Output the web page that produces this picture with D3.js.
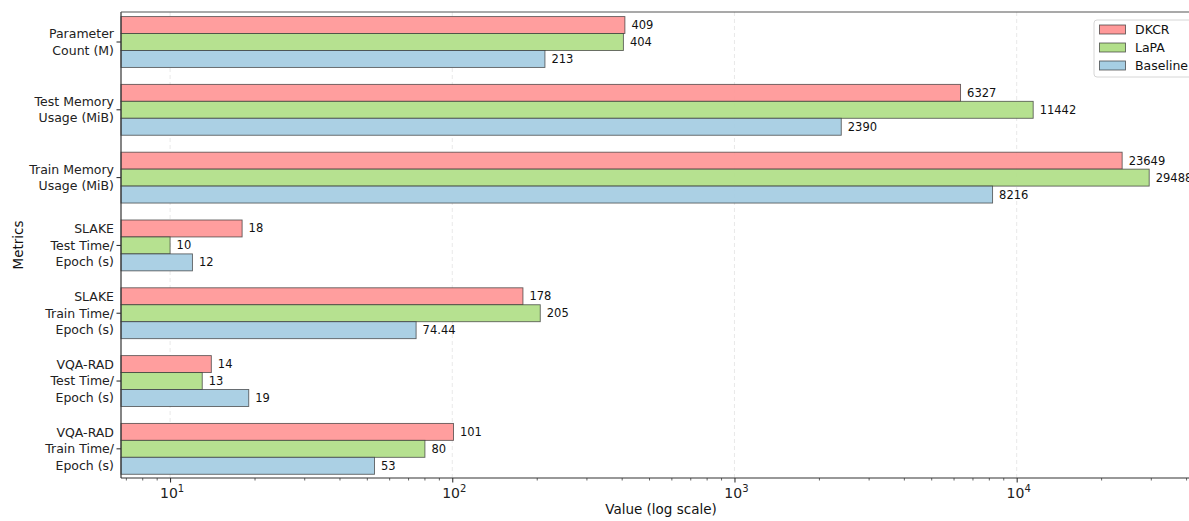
<!DOCTYPE html>
<html>
<head>
<meta charset="utf-8">
<script src="https://cdn.jsdelivr.net/npm/d3@7"></script>
<style>
  html, body { margin: 0; padding: 0; background: #fff; overflow: hidden; }
  svg { display: block; font-family: "DejaVu Sans", sans-serif; }
</style>
</head>
<body>
<svg id="chart" width="1189" height="521"></svg>
<script>
'use strict';

// categories, top to bottom
const metrics = [
  ['Parameter', 'Count (M)'],
  ['Test Memory', 'Usage (MiB)'],
  ['Train Memory', 'Usage (MiB)'],
  ['SLAKE', 'Test Time/', 'Epoch (s)'],
  ['SLAKE', 'Train Time/', 'Epoch (s)'],
  ['VQA-RAD', 'Test Time/', 'Epoch (s)'],
  ['VQA-RAD', 'Train Time/', 'Epoch (s)'],
];
const seriesNames = ['DKCR', 'LaPA', 'Baseline'];
const dkcr     = [409, 6327, 23649, 18, 178, 14, 101];
const lapa     = [404, 11442, 29488, 10, 205, 13, 80];
const baseline = [213, 2390, 8216, 12, 74.44, 19, 53];
const colors = ['#ff9999', '#b2df8a', '#a6cee3'];
const majorTicks = [10, 100, 1000, 10000];

const series = [dkcr, lapa, baseline];

const svg = d3.select('#chart');
const pLeft = 121, pTop = 12, pBottom = 478, pRight = 1201;

const x = d3.scaleLog().domain([6.7, 45000]).range([pLeft, pRight]);
const y = d3.scaleLinear().domain([-0.4425, 6.43]).range([pTop, pBottom]);
const barH = y(0.25) - y(0);

// grid
svg.append('g').selectAll('line').data(majorTicks).join('line')
  .attr('x1', d => x(d)).attr('x2', d => x(d))
  .attr('y1', pTop).attr('y2', pBottom)
  .attr('stroke', '#b0b0b0').attr('stroke-opacity', 0.35)
  .attr('stroke-dasharray', '4,3').attr('stroke-width', 0.8);

// bars
const barG = svg.append('g');
series.forEach((vals, s) => {
  const off = (s - 1) * 0.25;
  barG.selectAll('rect.s' + s).data(vals).join('rect')
    .attr('class', 's' + s)
    .attr('x', x(6.7))
    .attr('y', (d, i) => y(i + off) - barH / 2)
    .attr('width', d => x(d) - x(6.7))
    .attr('height', barH)
    .attr('fill', colors[s])
    .attr('fill-opacity', 0.95)
    .attr('stroke', '#333')
    .attr('stroke-opacity', 0.75)
    .attr('stroke-width', 0.9);
  barG.selectAll('text.s' + s).data(vals).join('text')
    .attr('class', 's' + s)
    .attr('x', d => x(d) + 6.5)
    .attr('y', (d, i) => y(i + off))
    .attr('dy', '0.35em')
    .attr('font-size', 11.5)
    .attr('fill', '#111')
    .text(d => Number.isInteger(d) ? d : d.toFixed(2));
});

// x axis
const xAxis = d3.axisBottom(x)
  .tickValues(majorTicks)
  .tickSize(4.5)
  .tickFormat(() => '');
const xg = svg.append('g').attr('transform', `translate(0,${pBottom})`).call(xAxis);
xg.select('.domain').remove();
xg.selectAll('.tick line').attr('stroke', '#222').attr('stroke-width', 1);

const minor = [];
for (let p = 0; p <= 4; p++) {
  for (let m = 2; m <= 9; m++) {
    const v = m * Math.pow(10, p);
    if (v > 6.7 && v < 45000) minor.push(v);
  }
}
svg.append('g').selectAll('line').data(minor).join('line')
  .attr('x1', d => x(d)).attr('x2', d => x(d))
  .attr('y1', pBottom).attr('y2', pBottom + 2.5)
  .attr('stroke', '#222').attr('stroke-width', 0.7);

const tl = svg.append('g').selectAll('text').data(majorTicks).join('text')
  .attr('x', d => x(d) + 2).attr('y', pBottom + 20)
  .attr('text-anchor', 'middle')
  .attr('font-size', 14).attr('fill', '#222');
tl.append('tspan').text('10');
tl.append('tspan').attr('dy', -6).attr('font-size', 10)
  .text(d => Math.round(Math.log10(d)));

// y ticks + labels
const yg = svg.append('g');
metrics.forEach((lines, i) => {
  yg.append('line')
    .attr('x1', pLeft - 4.5).attr('x2', pLeft)
    .attr('y1', y(i)).attr('y2', y(i))
    .attr('stroke', '#222');
  const lh = 16.5;
  const t = yg.append('text')
    .attr('text-anchor', 'end')
    .attr('font-size', 12.5).attr('fill', '#222');
  lines.forEach((ln, k) => {
    t.append('tspan')
      .attr('x', pLeft - 7)
      .attr('y', y(i) + (k - (lines.length - 1) / 2) * lh)
      .attr('dy', '0.35em')
      .text(ln);
  });
});

// spines
svg.append('line').attr('x1', pLeft).attr('x2', pLeft).attr('y1', pTop).attr('y2', pBottom)
  .attr('stroke', '#333').attr('stroke-width', 1.2);
svg.append('line').attr('x1', pLeft).attr('x2', pRight).attr('y1', pBottom).attr('y2', pBottom)
  .attr('stroke', '#333').attr('stroke-width', 1.2);
svg.append('line').attr('x1', pLeft).attr('x2', pRight).attr('y1', pTop).attr('y2', pTop)
  .attr('stroke', '#555').attr('stroke-width', 1.2);
svg.append('line').attr('x1', pRight).attr('x2', pRight).attr('y1', pTop).attr('y2', pBottom)
  .attr('stroke', '#555').attr('stroke-width', 1.2);

// axis titles
svg.append('text')
  .attr('x', (pLeft + pRight) / 2).attr('y', 514)
  .attr('text-anchor', 'middle').attr('font-size', 13.5).attr('fill', '#111')
  .text('Value (log scale)');
svg.append('text')
  .attr('transform', `translate(23,${(pTop + pBottom) / 2}) rotate(-90)`)
  .attr('text-anchor', 'middle').attr('font-size', 13.5).attr('fill', '#111')
  .text('Metrics');

// legend
const lg = svg.append('g').attr('transform', 'translate(1094,20)');
lg.append('rect').attr('x', 0).attr('y', 0).attr('width', 110).attr('height', 57)
  .attr('rx', 3).attr('fill', '#fff').attr('fill-opacity', 0.85)
  .attr('stroke', '#ccc').attr('stroke-width', 0.8);
seriesNames.forEach((n, s) => {
  const yy = 9.5 + s * 18;
  lg.append('rect').attr('x', 5.5).attr('y', yy - 4.5).attr('width', 26).attr('height', 9)
    .attr('fill', colors[s]).attr('stroke', '#333').attr('stroke-opacity', 0.75).attr('stroke-width', 0.9);
  lg.append('text').attr('x', 41).attr('y', yy).attr('dy', '0.35em')
    .attr('font-size', 12.5).attr('fill', '#111').text(n);
});
</script>
</body>
</html>
